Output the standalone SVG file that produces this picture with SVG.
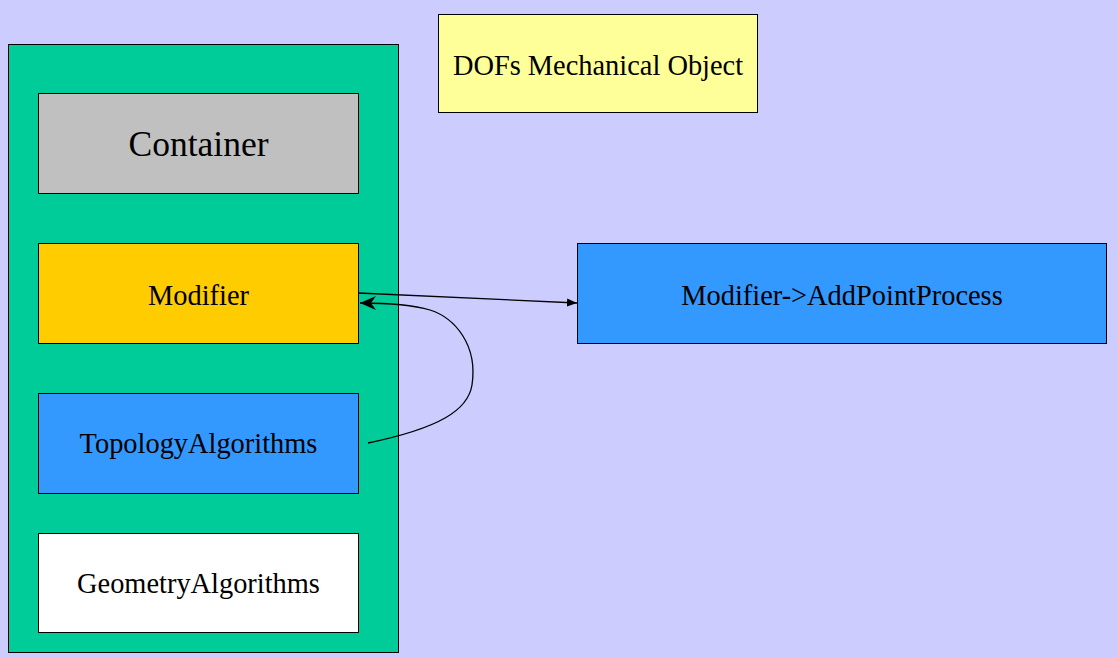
<svg xmlns="http://www.w3.org/2000/svg" width="1117" height="658" viewBox="0 0 1117 658">
<style>
.b{stroke:#000;stroke-width:1}
.t{font-family:"Liberation Serif","Times New Roman","DejaVu Serif",serif;font-size:28.4px;fill:#000;text-anchor:middle}
.c{fill:none;stroke:#000;stroke-width:1.3}
</style>
<defs>
<marker id="ah" viewBox="0 0 10 10" refX="10" refY="5" markerWidth="10" markerHeight="10" markerUnits="userSpaceOnUse" orient="auto"><path d="M0,1 L10,5 L0,9 Z" fill="#000"/></marker>
<marker id="ah2" viewBox="0 0 16 14" refX="16" refY="7" markerWidth="16" markerHeight="14" markerUnits="userSpaceOnUse" orient="auto"><path d="M0,0 L16,7 L0,14 L5,7 Z" fill="#000"/></marker>
</defs>
<rect width="1117" height="658" fill="#ccccff"/>
<g id="group"><rect x="8.5" y="44.5" width="390" height="608" fill="#00cc99" class="b"/></g>
<g id="container"><rect x="38.5" y="93.5" width="320" height="100" fill="#c0c0c0" class="b"/><text x="198.5" y="156" class="t" style="font-size:35.5px">Container</text></g>
<g id="modifier"><rect x="38.5" y="243.5" width="320" height="100" fill="#ffcc00" class="b"/><text x="198.5" y="305" class="t">Modifier</text></g>
<g id="topology"><rect x="38.5" y="393.5" width="320" height="100" fill="#3399ff" class="b"/><text x="198.5" y="453" class="t">TopologyAlgorithms</text></g>
<g id="geometry"><rect x="38.5" y="533.5" width="320" height="99" fill="#ffffff" class="b"/><text x="198.5" y="593" class="t">GeometryAlgorithms</text></g>
<g id="dofs"><rect x="438.5" y="14.5" width="319" height="98" fill="#ffff99" class="b"/><text x="598" y="75" class="t">DOFs Mechanical Object</text></g>
<g id="addpoint"><rect x="577.5" y="243.5" width="529" height="100" fill="#3399ff" class="b"/><text x="842" y="305" class="t">Modifier-&gt;AddPointProcess</text></g>
<g id="connectors">
<path d="M358,293 L577,303" class="c" marker-end="url(#ah)"/>
<path d="M368,443 C440,428 468,410 472,385 C478,345 455,318 430,310 C410,304 385,303 360,303" class="c" marker-end="url(#ah2)"/>
</g>
</svg>
